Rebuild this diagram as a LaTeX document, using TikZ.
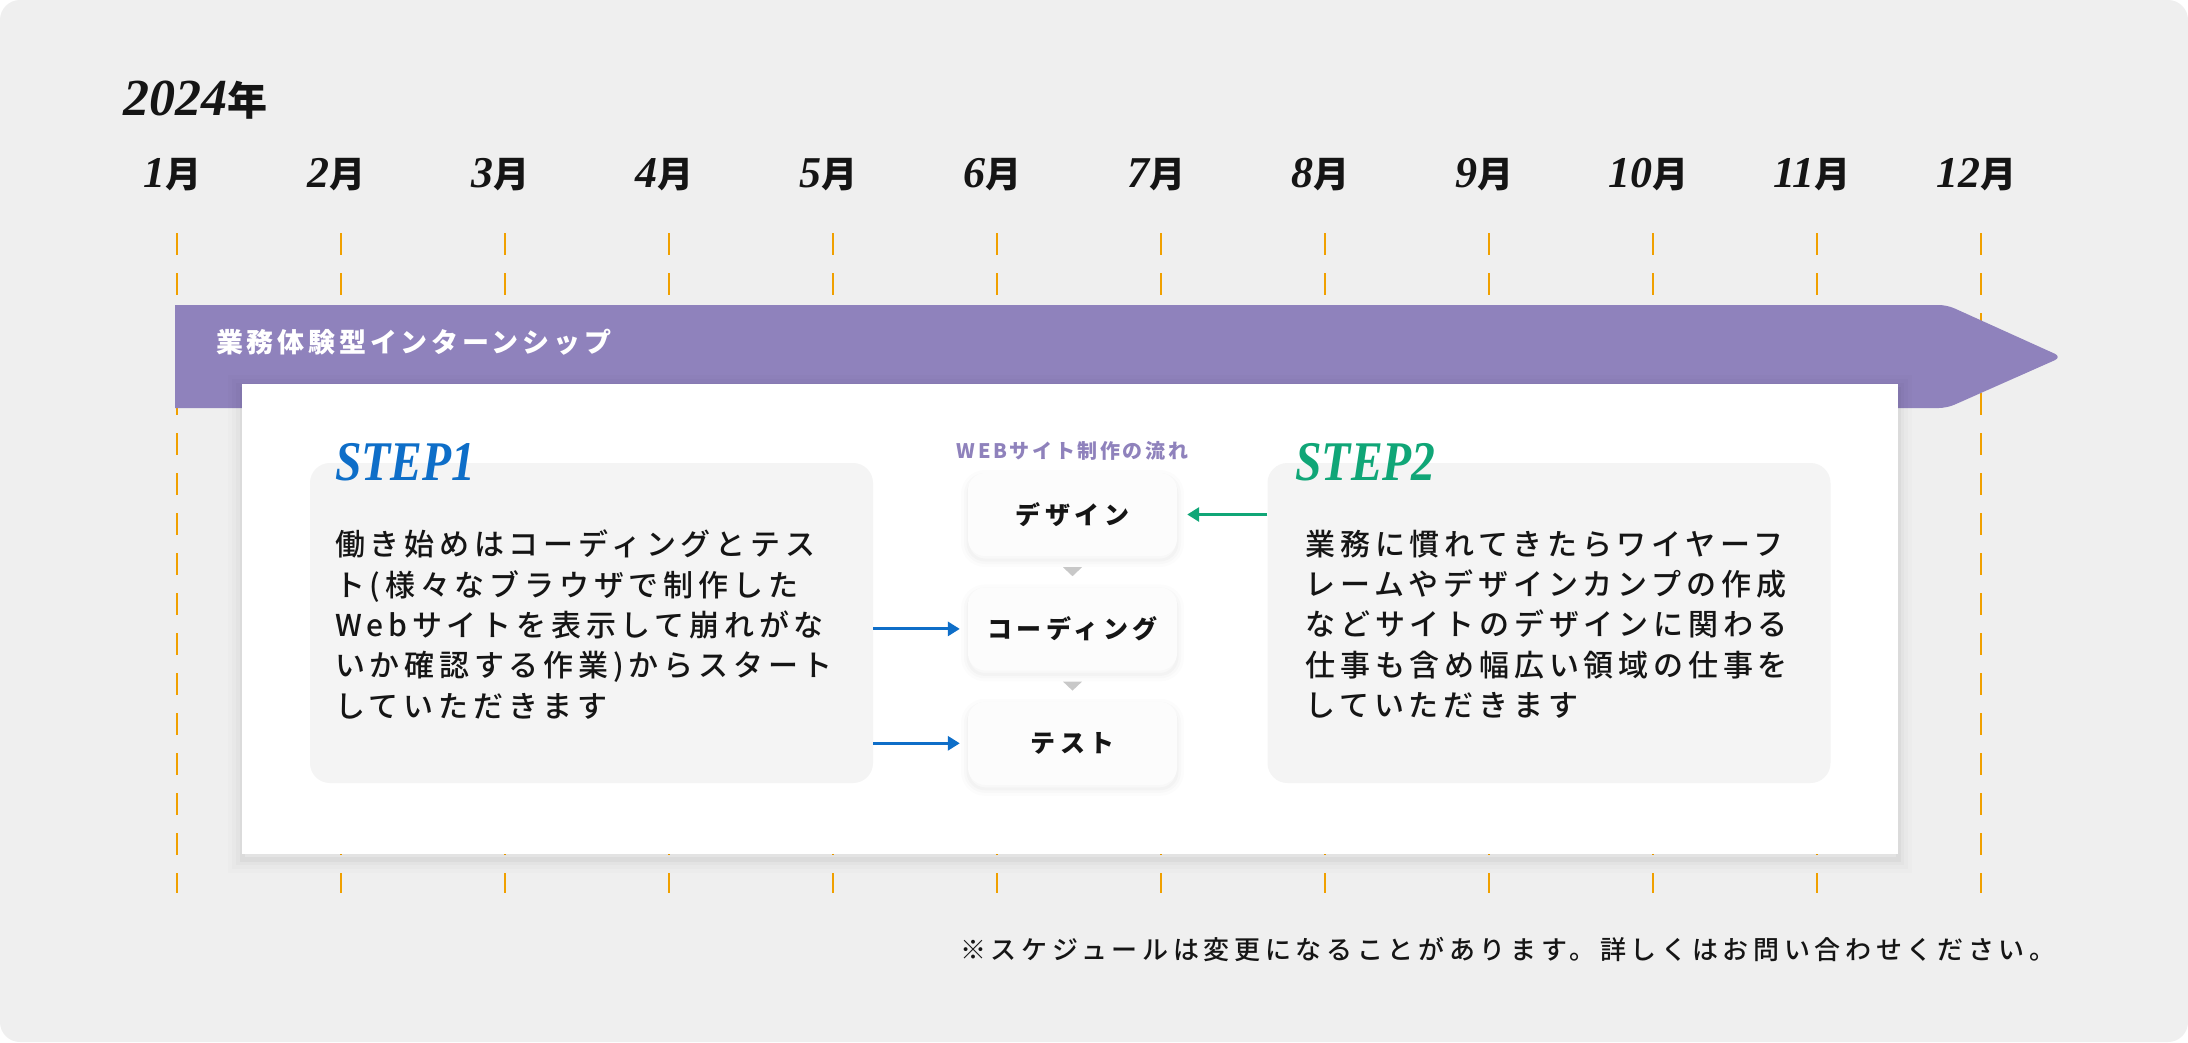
\documentclass[tikz,border=0pt]{standalone}
\usepackage{fontspec}
\setmainfont{Noto Sans CJK JP}
\newfontfamily\jpmedium{Noto Sans CJK JP Medium}
\newfontfamily\numfont{Liberation Serif}
\newfontfamily\stepfont{Liberation Serif}[FakeStretch=0.85]
\usetikzlibrary{arrows.meta,positioning,calc}

\definecolor{bgcol}{HTML}{EFEFEF}
\definecolor{barcol}{HTML}{8F82BC}
\definecolor{dashcol}{HTML}{F0A000}
\definecolor{inkcol}{HTML}{151515}
\definecolor{stepfill}{HTML}{F4F4F4}
\definecolor{flowfill}{HTML}{FCFCFC}
\definecolor{trigray}{HTML}{C8C8C8}
\definecolor{stepblue}{HTML}{0E6EC8}
\definecolor{stepgreen}{HTML}{10A677}

\begin{document}
\begin{tikzpicture}[
    x=1pt, y=-1pt,
    node distance=31pt,
    >=Latex,
    monthlabel/.style={anchor=base, inner sep=0pt, text=inkcol},
    monthdash/.style={draw=dashcol, line width=2.5pt, dash pattern=on 22pt off 18pt},
    barlabel/.style={
        anchor=west, inner sep=0pt, text=white,
        font=\fontsize{27pt}{30pt}\selectfont\bfseries\addfontfeature{LetterSpace=14}
    },
    cardbox/.style={
        fill=white, minimum width=1656pt, minimum height=470pt, inner sep=0pt,
        preaction={draw=black, line width=28pt, opacity=.012, transform canvas={yshift=-5pt}},
        preaction={draw=black, line width=20pt, opacity=.015, transform canvas={yshift=-5pt}},
        preaction={draw=black, line width=12pt, opacity=.02, transform canvas={yshift=-5pt}},
        preaction={draw=black, line width=5pt, opacity=.03, transform canvas={yshift=-5pt}}
    },
    stepbox/.style={
        rounded corners=20pt, fill=stepfill,
        minimum width=563pt, minimum height=320pt, inner sep=0pt
    },
    steplabel/.style={
        anchor=base west, inner sep=0pt,
        font=\fontsize{56pt}{60pt}\selectfont\stepfont\bfseries\itshape
    },
    bodytext/.style={
        anchor=north west, inner sep=0pt, align=left, text=inkcol,
        font=\fontsize{30pt}{40.3pt}\selectfont\jpmedium\addfontfeature{LetterSpace=16}
    },
    flowtitle/.style={
        inner sep=0pt, text=barcol,
        font=\fontsize{20pt}{22pt}\selectfont\bfseries\addfontfeature{LetterSpace=13}
    },
    flowbox/.style={
        rounded corners=17pt, fill=flowfill,
        minimum width=209pt, minimum height=83pt, inner sep=0pt, text=inkcol,
        font=\fontsize{25pt}{30pt}\selectfont\bfseries\addfontfeature{LetterSpace=18},
        preaction={draw=black, line width=14pt, opacity=.010, transform canvas={yshift=-4pt}},
        preaction={draw=black, line width=8pt, opacity=.014, transform canvas={yshift=-4pt}},
        preaction={draw=black, line width=3pt, opacity=.02, transform canvas={yshift=-4pt}}
    },
    flowtri/.style={fill=trigray},
    bluearrow/.style={draw=stepblue, line width=3pt, -{Triangle[length=12pt,width=14pt]}, shorten >=8pt},
    greenarrow/.style={draw=stepgreen, line width=3pt, -{Triangle[length=12pt,width=14pt]}, shorten >=10pt},
    notetext/.style={
        anchor=west, inner sep=0pt, text=inkcol,
        font=\fontsize{26pt}{30pt}\selectfont\jpmedium\addfontfeature{LetterSpace=18}
    }
]
\useasboundingbox (0,0) rectangle (2188,1042);

% --- BACKGROUND ---
\fill[white] (0,0) rectangle (2188,1042);
\fill[bgcol, rounded corners=20pt] (0,0) rectangle (2188,1042);

% --- YEAR AND MONTHS ---
\node[anchor=base west, inner sep=0pt, text=inkcol] (year) at (123,115)
{{\numfont\bfseries\itshape\fontsize{52pt}{54pt}\selectfont 2024}{\bfseries\fontsize{40pt}{42pt}\selectfont 年}};

\foreach \m in {1,...,12}{
    \coordinate (tick\m) at ({177+164*(\m-1)},233);
    \draw[monthdash] (tick\m) -- ++(0,660);
    \node[monthlabel] (month\m) at ({172+164*(\m-1)},187)
    {{\numfont\bfseries\itshape\fontsize{44pt}{50pt}\selectfont\m}{\bfseries\fontsize{36pt}{40pt}\selectfont 月}};
}

% --- INTERNSHIP BAR ---
\fill[barcol] (175,305) [rounded corners=8pt] -- (1947,305) -- (2062,357) -- (1947,408) [sharp corners] -- (175,408) -- cycle;
\node[barlabel] (bar) at (216,342) {業務体験型インターンシップ};

% --- CARD ---
\node[cardbox] (card) at (1070,619) {};

% --- STEP BOXES ---
\node[stepbox] (step1) at (591.5,623) {};
\node[stepbox] (step2) at (1549,623) {};

\node[steplabel, text=stepblue] (step1label) at ($(step1.north west)+(25,18)$) {STEP1};
\node[steplabel, text=stepgreen] (step2label) at ($(step2.north west)+(28,18)$) {STEP2};

\node[bodytext] (step1text) at ($(step1.north west)+(25,67)$)
{働き始めはコーディングとテス\\
ト(様々なブラウザで制作した\\
Webサイトを表示して崩れがな\\
いか確認する作業)からスタート\\
していただきます};

\node[bodytext] (step2text) at ($(step2.north west)+(38,67)$)
{業務に慣れてきたらワイヤーフ\\
レームやデザインカンプの作成\\
などサイトのデザインに関わる\\
仕事も含め幅広い領域の仕事を\\
していただきます};

% --- WEB FLOW ---
\node[flowbox] (design) at (1072.5,514.5) {デザイン};
\node[flowbox, below=of design] (coding) {コーディング};
\node[flowbox, below=of coding] (test) {テスト};
\node[flowtitle] (flowhead) at ($(design.north)+(0,-22)$) {WEBサイト制作の流れ};

\fill[flowtri] ($(design.south)!.5!(coding.north)$) ++(-9.5,-4.5) -- ++(19,0) -- ++(-9.5,9) -- cycle;
\fill[flowtri] ($(coding.south)!.5!(test.north)$) ++(-9.5,-4.5) -- ++(19,0) -- ++(-9.5,9) -- cycle;

% --- CONNECTIONS ---
\draw[bluearrow] (step1.east |- coding.west) -- (coding.west);
\draw[bluearrow] (step1.east |- test.west) -- (test.west);
\draw[greenarrow] (step2.west |- design.east) -- (design.east);

% --- NOTE ---
\node[notetext] (note) at (960,950) {※スケジュールは変更になることがあります。詳しくはお問い合わせください。};

\end{tikzpicture}
\end{document}
